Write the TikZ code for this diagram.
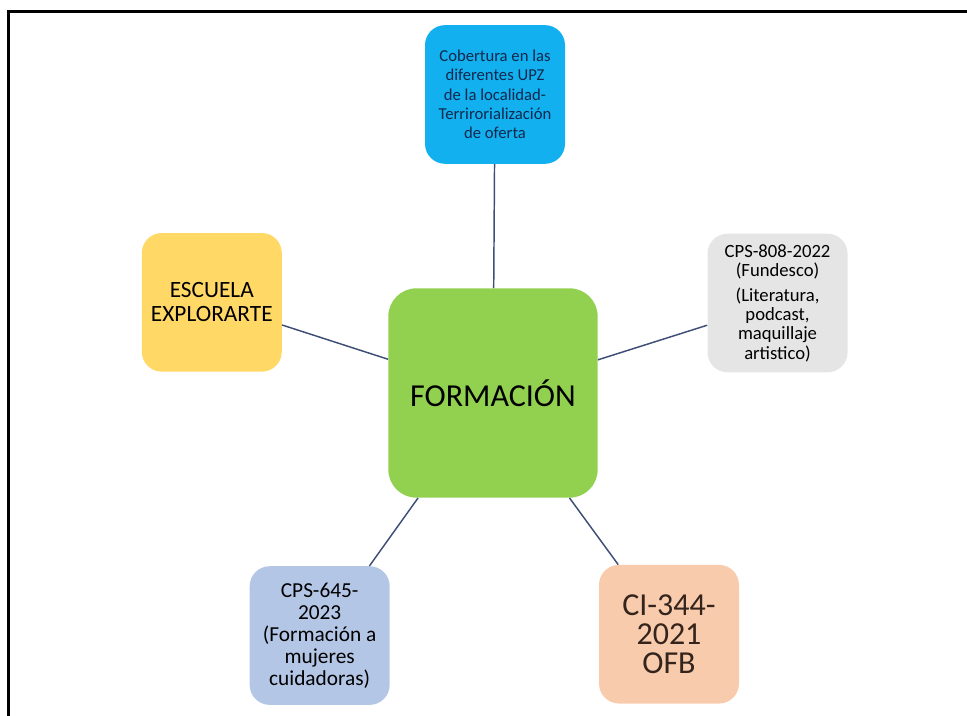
\documentclass[tikz,border=0pt]{standalone}
\usepackage{fontspec}
\setmainfont{Carlito}
\usepackage{xcolor}
\usepackage{tikz}
\usetikzlibrary{shapes.geometric, arrows.meta, positioning, calc}
\definecolor{cobblue}{RGB}{18,176,238}
\definecolor{cpsgray}{RGB}{229,229,229}
\definecolor{escyellow}{RGB}{255,216,102}
\definecolor{formgreen}{RGB}{146,208,80}
\definecolor{cpsblue}{RGB}{180,198,230}
\definecolor{cipeach}{RGB}{248,203,173}
\definecolor{linkcol}{RGB}{62,78,118}
\definecolor{cobtext}{RGB}{16,40,78}
\definecolor{citext}{RGB}{52,36,28}
\tikzstyle{hub} = [rectangle,
rounded corners=21pt,
minimum width=157pt,
minimum height=157pt,
text centered,
fill=formgreen]
\tikzstyle{leaf} = [rectangle,
rounded corners=15pt,
minimum width=105pt,
minimum height=104pt,
text centered,
align=center,
inner sep=2pt]
\tikzstyle{link} = [draw=linkcol, line width=1.1pt]

\begin{document}
\begin{tikzpicture}
                \useasboundingbox (0,0) rectangle (725.25pt,-536.25pt);
                % frame, cut at the right and bottom
                \draw[line width=1.6pt] (6.4pt,-540pt) -- (6.4pt,-8.6pt) -- (730pt,-8.6pt);

                \node (formacion) [hub, font=\fontsize{24}{28}\selectfont] at (369.75pt,-294.75pt) {FORMACIÓN};
                \node (cobertura) [leaf, fill=cobblue, text=cobtext, font=\fontsize{12.5}{14.5}\selectfont,
                    above=93pt of formacion, xshift=1.5pt]
                    {Cobertura en las\\diferentes UPZ\\de la localidad-\\Terrirorialización\\de oferta};
                \node (fundesco) [leaf, fill=cpsgray, font=\fontsize{14}{14.5}\selectfont,
                    right=82pt of formacion, yshift=67.5pt]
                    {CPS-808-2022\\(Fundesco)\\[4pt](Literatura,\\podcast,\\maquillaje\\artistico)};
                \node (escuela) [leaf, fill=escyellow, font=\fontsize{17.5}{18}\selectfont,
                    left=79.5pt of formacion, yshift=68pt]
                    {ESCUELA\\EXPLORARTE};
                \node (cuidadoras) [leaf, fill=cpsblue, font=\fontsize{16}{16.5}\selectfont,
                    below=51pt of formacion, xshift=-130pt]
                    {CPS-645-\\2023\\(Formación a\\mujeres\\cuidadoras)};
                \node (ofb) [leaf, fill=cipeach, text=citext, font=\fontsize{24}{22}\selectfont,
                    below=50pt of formacion, xshift=132pt]
                    {CI-344-\\2021\\OFB};

                \draw [link] (cobertura) -- (formacion);
                \draw [link] (fundesco) -- (formacion);
                \draw [link] (escuela) -- (formacion);
                \draw [link] (cuidadoras) -- (formacion);
                \draw [link] (ofb) -- (formacion);
            \end{tikzpicture}
\end{document}
